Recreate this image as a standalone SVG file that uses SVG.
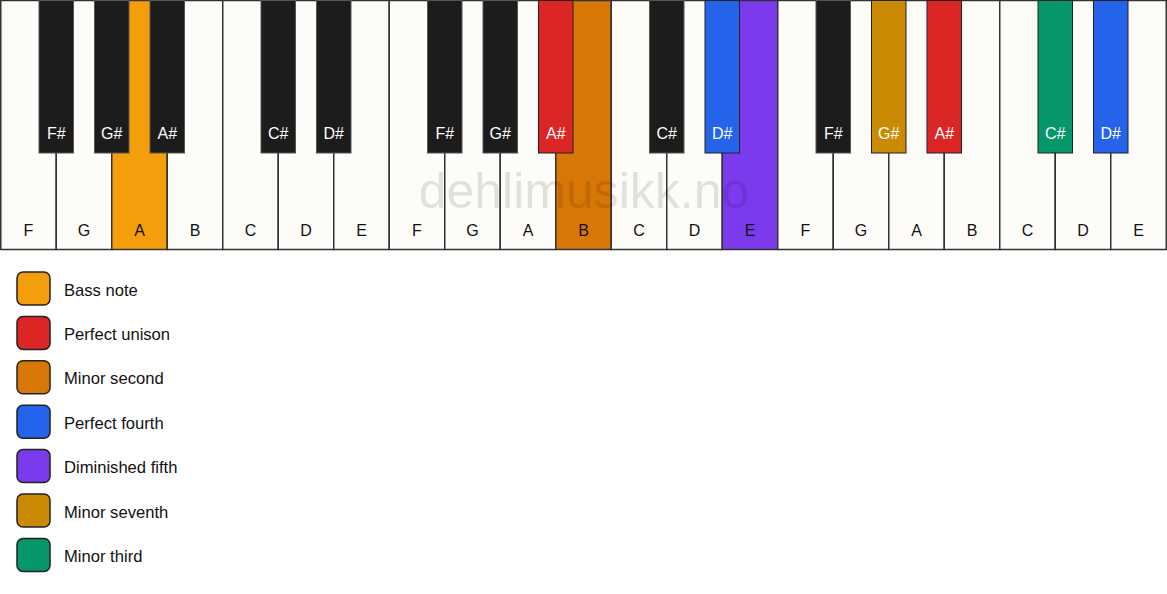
<svg xmlns="http://www.w3.org/2000/svg" width="1167" height="594" viewBox="0 0 1167 594">
<style>
.w{fill:#fdfcf9;stroke:#333;stroke-width:1.5}
.b{fill:#1c1c1c;stroke:#555;stroke-width:1}
.wl{font-family:"Liberation Sans",Arial,sans-serif;font-size:16px;fill:#111;text-anchor:middle}
.bl{font-family:"Liberation Sans",Arial,sans-serif;font-size:16px;fill:#fff;text-anchor:middle}
.sw{stroke:#222;stroke-width:1.5}
.lt{font-family:"Liberation Sans",Arial,sans-serif;font-size:16.6px;fill:#111}
.wm{font-family:"Liberation Sans",Arial,sans-serif;font-size:50px;fill:#000;fill-opacity:0.11;text-anchor:middle}
</style>
<rect width="1167" height="594" fill="#ffffff"/>
<g id="white-keys">
<g id="w0"><rect class="w" x="0.75" y="0.5" width="55.5" height="249"/><text class="wl" x="28.5" y="235.5">F</text></g>
<g id="w1"><rect class="w" x="56.25" y="0.5" width="55.5" height="249"/><text class="wl" x="84" y="235.5">G</text></g>
<g id="w2"><rect class="w" x="111.75" y="0.5" width="55.5" height="249" style="fill:#f59e0b"/><text class="wl" x="139.5" y="235.5">A</text></g>
<g id="w3"><rect class="w" x="167.25" y="0.5" width="55.5" height="249"/><text class="wl" x="195" y="235.5">B</text></g>
<g id="w4"><rect class="w" x="222.75" y="0.5" width="55.5" height="249"/><text class="wl" x="250.5" y="235.5">C</text></g>
<g id="w5"><rect class="w" x="278.25" y="0.5" width="55.5" height="249"/><text class="wl" x="306" y="235.5">D</text></g>
<g id="w6"><rect class="w" x="333.75" y="0.5" width="55.5" height="249"/><text class="wl" x="361.5" y="235.5">E</text></g>
<g id="w7"><rect class="w" x="389.25" y="0.5" width="55.5" height="249"/><text class="wl" x="417" y="235.5">F</text></g>
<g id="w8"><rect class="w" x="444.75" y="0.5" width="55.5" height="249"/><text class="wl" x="472.5" y="235.5">G</text></g>
<g id="w9"><rect class="w" x="500.25" y="0.5" width="55.5" height="249"/><text class="wl" x="528" y="235.5">A</text></g>
<g id="w10"><rect class="w" x="555.75" y="0.5" width="55.5" height="249" style="fill:#d97706"/><text class="wl" x="583.5" y="235.5">B</text></g>
<g id="w11"><rect class="w" x="611.25" y="0.5" width="55.5" height="249"/><text class="wl" x="639" y="235.5">C</text></g>
<g id="w12"><rect class="w" x="666.75" y="0.5" width="55.5" height="249"/><text class="wl" x="694.5" y="235.5">D</text></g>
<g id="w13"><rect class="w" x="722.25" y="0.5" width="55.5" height="249" style="fill:#7c3aed"/><text class="wl" x="750" y="235.5">E</text></g>
<g id="w14"><rect class="w" x="777.75" y="0.5" width="55.5" height="249"/><text class="wl" x="805.5" y="235.5">F</text></g>
<g id="w15"><rect class="w" x="833.25" y="0.5" width="55.5" height="249"/><text class="wl" x="861" y="235.5">G</text></g>
<g id="w16"><rect class="w" x="888.75" y="0.5" width="55.5" height="249"/><text class="wl" x="916.5" y="235.5">A</text></g>
<g id="w17"><rect class="w" x="944.25" y="0.5" width="55.5" height="249"/><text class="wl" x="972" y="235.5">B</text></g>
<g id="w18"><rect class="w" x="999.75" y="0.5" width="55.5" height="249"/><text class="wl" x="1027.5" y="235.5">C</text></g>
<g id="w19"><rect class="w" x="1055.25" y="0.5" width="55.5" height="249"/><text class="wl" x="1083" y="235.5">D</text></g>
<g id="w20"><rect class="w" x="1110.75" y="0.5" width="55.5" height="249"/><text class="wl" x="1138.5" y="235.5">E</text></g>
</g>
<text class="wm" x="584" y="208">dehlimusikk.no</text>
<g id="black-keys">
<g id="b1"><rect class="b" x="39" y="0.5" width="34.5" height="152.5"/><text class="bl" x="56.25" y="138.5">F#</text></g>
<g id="b2"><rect class="b" x="94.5" y="0.5" width="34.5" height="152.5"/><text class="bl" x="111.75" y="138.5">G#</text></g>
<g id="b3"><rect class="b" x="150" y="0.5" width="34.5" height="152.5"/><text class="bl" x="167.25" y="138.5">A#</text></g>
<g id="b5"><rect class="b" x="261" y="0.5" width="34.5" height="152.5"/><text class="bl" x="278.25" y="138.5">C#</text></g>
<g id="b6"><rect class="b" x="316.5" y="0.5" width="34.5" height="152.5"/><text class="bl" x="333.75" y="138.5">D#</text></g>
<g id="b8"><rect class="b" x="427.5" y="0.5" width="34.5" height="152.5"/><text class="bl" x="444.75" y="138.5">F#</text></g>
<g id="b9"><rect class="b" x="483" y="0.5" width="34.5" height="152.5"/><text class="bl" x="500.25" y="138.5">G#</text></g>
<g id="b10"><rect class="b" x="538.5" y="0.5" width="34.5" height="152.5" style="fill:#dc2626;stroke:#222"/><text class="bl" x="555.75" y="138.5">A#</text></g>
<g id="b12"><rect class="b" x="649.5" y="0.5" width="34.5" height="152.5"/><text class="bl" x="666.75" y="138.5">C#</text></g>
<g id="b13"><rect class="b" x="705" y="0.5" width="34.5" height="152.5" style="fill:#2563eb;stroke:#222"/><text class="bl" x="722.25" y="138.5">D#</text></g>
<g id="b15"><rect class="b" x="816" y="0.5" width="34.5" height="152.5"/><text class="bl" x="833.25" y="138.5">F#</text></g>
<g id="b16"><rect class="b" x="871.5" y="0.5" width="34.5" height="152.5" style="fill:#ca8a04;stroke:#222"/><text class="bl" x="888.75" y="138.5">G#</text></g>
<g id="b17"><rect class="b" x="927" y="0.5" width="34.5" height="152.5" style="fill:#dc2626;stroke:#222"/><text class="bl" x="944.25" y="138.5">A#</text></g>
<g id="b19"><rect class="b" x="1038" y="0.5" width="34.5" height="152.5" style="fill:#059669;stroke:#222"/><text class="bl" x="1055.25" y="138.5">C#</text></g>
<g id="b20"><rect class="b" x="1093.5" y="0.5" width="34.5" height="152.5" style="fill:#2563eb;stroke:#222"/><text class="bl" x="1110.75" y="138.5">D#</text></g>
</g>
<g id="legend">
<g id="lg-bass"><rect class="sw" x="17" y="272" width="33" height="33" rx="6" fill="#f59e0b"/><text class="lt" x="64" y="295.6">Bass note</text></g>
<g id="lg-unison"><rect class="sw" x="17" y="316.4" width="33" height="33" rx="6" fill="#dc2626"/><text class="lt" x="64" y="340">Perfect unison</text></g>
<g id="lg-m2"><rect class="sw" x="17" y="360.8" width="33" height="33" rx="6" fill="#d97706"/><text class="lt" x="64" y="384.4">Minor second</text></g>
<g id="lg-p4"><rect class="sw" x="17" y="405.2" width="33" height="33" rx="6" fill="#2563eb"/><text class="lt" x="64" y="428.8">Perfect fourth</text></g>
<g id="lg-d5"><rect class="sw" x="17" y="449.6" width="33" height="33" rx="6" fill="#7c3aed"/><text class="lt" x="64" y="473.2">Diminished fifth</text></g>
<g id="lg-m7"><rect class="sw" x="17" y="494" width="33" height="33" rx="6" fill="#ca8a04"/><text class="lt" x="64" y="517.6">Minor seventh</text></g>
<g id="lg-m3"><rect class="sw" x="17" y="538.4" width="33" height="33" rx="6" fill="#059669"/><text class="lt" x="64" y="562">Minor third</text></g>
</g>
<g id="connectors"/>
</svg>
